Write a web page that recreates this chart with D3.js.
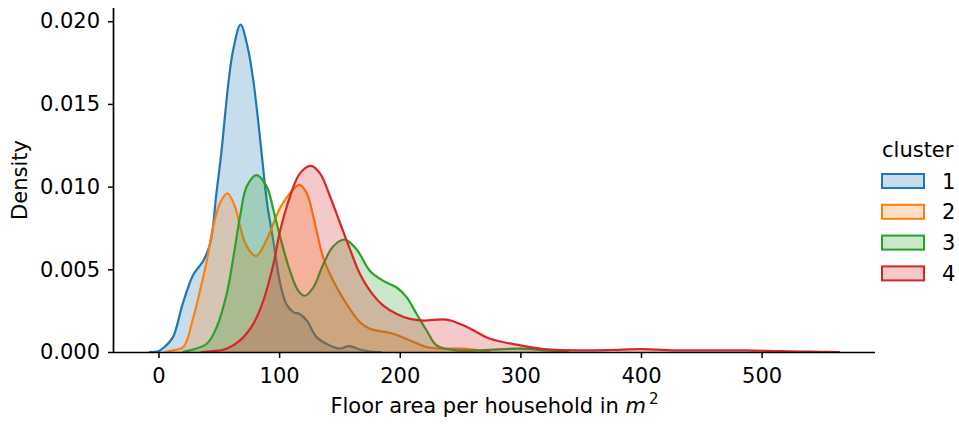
<!DOCTYPE html>
<html>
<head>
<meta charset="utf-8">
<script src="https://cdn.jsdelivr.net/npm/d3@7"></script>
<style>
  body { margin: 0; background: #fff; }
  svg text { font-family: "DejaVu Sans", sans-serif; fill: #000; }
</style>
</head>
<body>
<script>
// cluster labels and colours (tab10)
var clusters = ["1", "2", "3", "4"];
var colors = ["#1f77b4", "#ff7f0e", "#2ca02c", "#d62728"];

// density curves (x = floor area, y = density)
var c1x = [-8, 0, 5, 12, 20, 29, 37, 43, 48, 52, 58, 62, 68, 74, 79, 85.5, 90, 95, 101, 106, 112, 117, 123, 131, 142, 150, 158, 167, 175, 185];
var c1y = [0, 0.00005, 0.0003, 0.0009, 0.0029, 0.0047, 0.0055, 0.0066, 0.0096, 0.0120, 0.0163, 0.0183, 0.0198, 0.0184, 0.0162, 0.0120, 0.0090, 0.0068, 0.0041, 0.0029, 0.0024, 0.0023, 0.0019, 0.0009, 0.0004, 0.0002, 0.00035, 0.00015, 0.00003, 0];

var c2x = [5, 12, 20.6, 28.9, 34.4, 40, 45.4, 51, 57, 63.4, 67.6, 73.1, 80.8, 89.7, 100.7, 109, 116.7, 122.9, 128.3, 136.6, 144.9, 156, 167, 175.3, 194.6, 208.5, 222.3, 235, 250, 260, 275];
var c2y = [0, 0.0001, 0.0003, 0.0021, 0.0037, 0.0055, 0.0076, 0.0090, 0.0096, 0.0088, 0.0076, 0.0064, 0.0058, 0.0068, 0.0087, 0.0096, 0.0101, 0.0096, 0.0082, 0.0057, 0.0043, 0.0029, 0.0018, 0.0014, 0.0011, 0.0007, 0.0003, 0.0002, 0.0002, 0.00015, 0];

var c3x = [20, 26, 40, 48.2, 56.5, 62, 67.6, 73.1, 81.4, 89.7, 95.2, 100.7, 109, 115.9, 121.4, 128.3, 136.6, 144.9, 154.6, 164.3, 175.3, 186.4, 197.5, 205.8, 214, 222.3, 230.6, 247, 270, 300, 320, 340];
var c3y = [0, 0.0001, 0.0005, 0.0015, 0.0035, 0.0057, 0.0082, 0.0100, 0.0107, 0.0100, 0.0086, 0.0070, 0.0049, 0.0037, 0.0034, 0.0039, 0.0053, 0.0064, 0.0068, 0.0062, 0.0049, 0.0043, 0.0039, 0.0033, 0.0023, 0.0013, 0.0004, 0.0001, 0.00012, 0.0002, 0.0001, 0];

var c4x = [35, 45, 56.5, 67.6, 78.6, 86.9, 95.2, 100.7, 109, 117.3, 126.2, 133.9, 142.2, 150.5, 158.8, 167.1, 175.4, 186.4, 197.5, 208.5, 219.5, 239, 256, 275, 300, 322, 350, 375, 400, 432, 460, 487, 515, 540, 565];
var c4y = [0, 0.00005, 0.0002, 0.0007, 0.0017, 0.0031, 0.0053, 0.0073, 0.0094, 0.0108, 0.01125, 0.0108, 0.0094, 0.0078, 0.0062, 0.0047, 0.0037, 0.0028, 0.0023, 0.0020, 0.0019, 0.00196, 0.0015, 0.0008, 0.0004, 0.00016, 0.0001, 0.00012, 0.00017, 0.0001, 0.0001, 0.0001, 0.00005, 0.00002, 0];

var xTicks = [0, 100, 200, 300, 400, 500];
var yTicks = [0, 0.005, 0.010, 0.015, 0.020];

var seriesX = [c1x, c2x, c3x, c4x];
var seriesY = [c1y, c2y, c3y, c4y];

var svgWidth = 959, svgHeight = 424;
var margin = { top: 8, right: 84, bottom: 72, left: 114 };
var width = svgWidth - margin.left - margin.right;
var height = svgHeight - margin.top - margin.bottom;
var fontSize = 21;

var svg = d3.select("body").append("svg")
    .attr("width", svgWidth)
    .attr("height", svgHeight);

var chartGroup = svg.append("g").attr("transform", `translate(${margin.left}, ${margin.top})`);

var xScale = d3.scaleLinear().domain([-36.9, 594]).range([0, width]);
var yScale = d3.scaleLinear().domain([0, 0.0208]).range([height, 0]);

// keep the smooth curve from dipping under the baseline
var area = d3.area()
    .x(d => xScale(d[0]))
    .y0(yScale(0))
    .y1(d => yScale(d[1]))
    .curve(d3.curveCatmullRom.alpha(0.5));

var line = d3.line()
    .x(d => xScale(d[0]))
    .y(d => yScale(d[1]))
    .curve(d3.curveCatmullRom.alpha(0.5));

// each cluster: fill then its outline, in order 1..4
clusters.forEach(function(c, i) {
    var pts = seriesX[i].map((x, j) => [x, seriesY[i][j]]);
    var g = chartGroup.append("g");
    g.append("path")
        .attr("d", area(pts))
        .attr("fill", colors[i])
        .attr("fill-opacity", 0.25);
    g.append("path")
        .attr("d", line(pts))
        .attr("fill", "none")
        .attr("stroke", colors[i])
        .attr("stroke-width", 2.2);
});

// axes
var xAxis = d3.axisBottom(xScale).tickValues(xTicks).tickSize(6).tickPadding(10).tickFormat(d3.format("d"));
var yAxis = d3.axisLeft(yScale).tickValues(yTicks).tickSize(6).tickPadding(8).tickFormat(d3.format(".3f"));

var gx = chartGroup.append("g")
    .attr("transform", `translate(0, ${height})`)
    .call(xAxis);
var gy = chartGroup.append("g").call(yAxis);

[gx, gy].forEach(function(g) {
    g.select(".domain").attr("stroke", "#000").attr("stroke-width", 1.7);
    g.selectAll(".tick line").attr("stroke", "#000").attr("stroke-width", 1.5);
    g.selectAll(".tick text")
        .attr("font-family", "DejaVu Sans")
        .attr("font-size", fontSize)
        .attr("fill", "#000");
});
// matplotlib spines stop at the data area, no outer ticks
gx.select(".domain").attr("d", `M0,0.5H${width}`);
gy.select(".domain").attr("d", `M-0.5,${height}V0`);

// axis labels
chartGroup.append("text")
    .attr("transform", `translate(${27 - margin.left}, ${height / 2}) rotate(-90)`)
    .attr("text-anchor", "middle")
    .attr("font-size", fontSize)
    .text("Density");

var xl = chartGroup.append("text")
    .attr("x", width / 2)
    .attr("y", 413 - margin.top)
    .attr("text-anchor", "middle")
    .attr("font-size", fontSize);
xl.append("tspan").text("Floor area per household in ");
xl.append("tspan").attr("font-style", "italic").text("m");
xl.append("tspan").attr("font-size", 15).attr("dy", -9).attr("dx", 3).text("2");

// legend
var legend = svg.append("g").attr("transform", "translate(881, 0)");
legend.append("text")
    .attr("x", 1)
    .attr("y", 157)
    .attr("font-size", fontSize)
    .text("cluster");

clusters.forEach(function(c, i) {
    var y0 = 174 + i * 30.8;
    legend.append("rect")
        .attr("x", 1)
        .attr("y", y0)
        .attr("width", 42)
        .attr("height", 14)
        .attr("fill", colors[i])
        .attr("fill-opacity", 0.25)
        .attr("stroke", colors[i])
        .attr("stroke-width", 2);
    legend.append("text")
        .attr("x", 61)
        .attr("y", y0 + 14.5)
        .attr("font-size", fontSize)
        .text(c);
});
</script>
</body>
</html>
